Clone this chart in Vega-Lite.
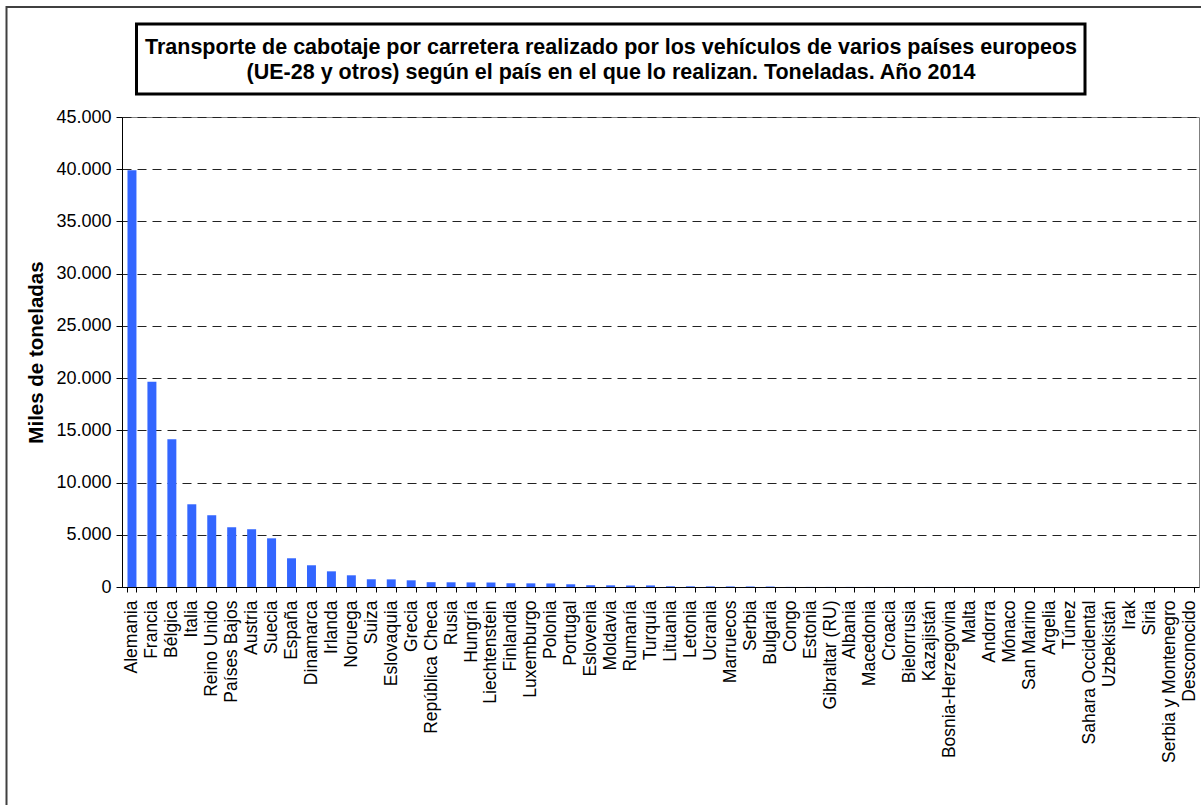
{
  "$schema": "https://vega.github.io/schema/vega-lite/v6.json",
  "width": 1077,
  "height": 470,
  "autosize": {"type": "none"},
  "padding": {"left": 122, "top": 117, "right": 2, "bottom": 218},
  "background": "white",
  "config": {"view": {"stroke": "#808080", "strokeWidth": 1}, "font": "Liberation Sans"},
  "layer": [
    {
      "data": {"values": [{}]},
      "mark": {"type": "rect", "fill": "transparent", "stroke": "#404040", "strokeWidth": 2},
      "encoding": {
        "x": {"value": -115.5},
        "x2": {"value": 1100},
        "y": {"value": -110},
        "y2": {"value": 720}
      }
    },
    {
      "data": {"values": [{}]},
      "mark": {"type": "rect", "fill": "white", "stroke": "black", "strokeWidth": 3},
      "encoding": {
        "x": {"value": 14.5},
        "x2": {"value": 963},
        "y": {"value": -93},
        "y2": {"value": -23}
      }
    },
    {
      "data": {"values": [{}]},
      "mark": {"type": "text", "font": "Liberation Sans", "fontWeight": "bold", "fontSize": 21.5, "align": "center", "baseline": "alphabetic", "lineHeight": 25, "color": "black"},
      "encoding": {
        "x": {"value": 489},
        "y": {"value": -63},
        "text": {"value": ["Transporte de cabotaje por carretera realizado por los vehículos de varios países europeos", "(UE-28 y otros) según el país en el que lo realizan. Toneladas. Año 2014"]}
      }
    },
    {
      "data": {
        "values": [
          {"pais": "Alemania", "toneladas": 39900},
          {"pais": "Francia", "toneladas": 19650},
          {"pais": "Bélgica", "toneladas": 14150},
          {"pais": "Italia", "toneladas": 7920},
          {"pais": "Reino Unido", "toneladas": 6870},
          {"pais": "Países Bajos", "toneladas": 5720},
          {"pais": "Austria", "toneladas": 5530},
          {"pais": "Suecia", "toneladas": 4660},
          {"pais": "España", "toneladas": 2750},
          {"pais": "Dinamarca", "toneladas": 2080},
          {"pais": "Irlanda", "toneladas": 1500},
          {"pais": "Noruega", "toneladas": 1120},
          {"pais": "Suiza", "toneladas": 740},
          {"pais": "Eslovaquia", "toneladas": 730},
          {"pais": "Grecia", "toneladas": 640},
          {"pais": "República Checa", "toneladas": 460},
          {"pais": "Rusia", "toneladas": 450},
          {"pais": "Hungría", "toneladas": 440},
          {"pais": "Liechtenstein", "toneladas": 430},
          {"pais": "Finlandia", "toneladas": 360},
          {"pais": "Luxemburgo", "toneladas": 350},
          {"pais": "Polonia", "toneladas": 340},
          {"pais": "Portugal", "toneladas": 260},
          {"pais": "Eslovenia", "toneladas": 170},
          {"pais": "Moldavia", "toneladas": 160},
          {"pais": "Rumanía", "toneladas": 155},
          {"pais": "Turquía", "toneladas": 150},
          {"pais": "Lituania", "toneladas": 70},
          {"pais": "Letonia", "toneladas": 65},
          {"pais": "Ucrania", "toneladas": 60},
          {"pais": "Marruecos", "toneladas": 55},
          {"pais": "Serbia", "toneladas": 50},
          {"pais": "Bulgaria", "toneladas": 45},
          {"pais": "Congo", "toneladas": 12},
          {"pais": "Estonia", "toneladas": 10},
          {"pais": "Gibraltar (RU)", "toneladas": 9},
          {"pais": "Albania", "toneladas": 8},
          {"pais": "Macedonia", "toneladas": 7},
          {"pais": "Croacia", "toneladas": 6},
          {"pais": "Bielorrusia", "toneladas": 5},
          {"pais": "Kazajistán", "toneladas": 5},
          {"pais": "Bosnia-Herzegovina", "toneladas": 4},
          {"pais": "Malta", "toneladas": 4},
          {"pais": "Andorra", "toneladas": 3},
          {"pais": "Mónaco", "toneladas": 3},
          {"pais": "San Marino", "toneladas": 2},
          {"pais": "Argelia", "toneladas": 2},
          {"pais": "Túnez", "toneladas": 2},
          {"pais": "Sahara Occidental", "toneladas": 1},
          {"pais": "Uzbekistán", "toneladas": 1},
          {"pais": "Irak", "toneladas": 1},
          {"pais": "Siria", "toneladas": 1},
          {"pais": "Serbia y Montenegro", "toneladas": 1},
          {"pais": "Desconocido", "toneladas": 0}
        ]
      },
      "mark": {"type": "bar", "color": "#3366ff"},
      "encoding": {
        "x": {
          "field": "pais",
          "type": "nominal",
          "sort": null,
          "scale": {"paddingInner": 0.55, "paddingOuter": 0.275},
          "axis": {
            "title": null,
            "labelAngle": -90,
            "labelFontSize": 17.5,
            "labelColor": "black",
            "labelFont": "Liberation Sans",
            "tickBand": "extent",
            "tickSize": 5,
            "tickColor": "black",
            "domainColor": "black",
            "labelPadding": 8,
            "grid": false,
            "labelOverlap": false
          }
        },
        "y": {
          "field": "toneladas",
          "type": "quantitative",
          "scale": {"domain": [0, 45000], "nice": false},
          "axis": {
            "title": "Miles de toneladas",
            "titleFont": "Liberation Sans",
            "titleFontSize": 20.5,
            "titleFontWeight": "bold",
            "titleColor": "black",
            "values": [0, 5000, 10000, 15000, 20000, 25000, 30000, 35000, 40000, 45000],
            "labelExpr": "replace(format(datum.value, ','), ',', '.')",
            "labelFont": "Liberation Sans",
            "labelFontSize": 18,
            "labelColor": "black",
            "tickSize": 6,
            "tickColor": "black",
            "domainColor": "black",
            "grid": true,
            "gridColor": "#222222",
            "gridDash": [9, 6],
            "labelPadding": 5,
            "titlePadding": 9
          }
        }
      }
    }
  ]
}
